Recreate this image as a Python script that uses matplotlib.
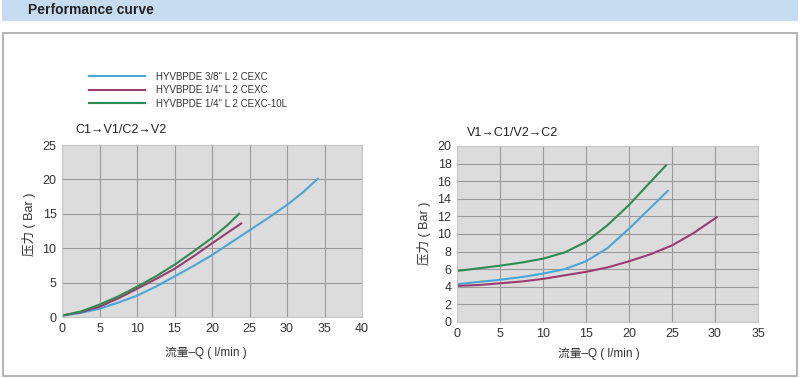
import matplotlib
matplotlib.use("Agg")
import matplotlib.pyplot as plt
from matplotlib.patches import Rectangle

plt.rcParams['font.family'] = ['Liberation Sans', 'Noto Sans CJK SC', 'DejaVu Sans']

# left chart: C1->V1/C2->V2
left_blue_q = [0, 2.5, 5, 7.5, 10, 12.5, 15, 17.5, 20, 22.5, 25, 27.5, 30, 32, 34.1]
left_blue_p = [0.2, 0.6, 1.2, 2.1, 3.1, 4.4, 5.9, 7.4, 9.0, 10.8, 12.6, 14.4, 16.3, 18.0, 20.1]
left_purple_q = [0, 2.5, 5, 7.5, 10, 12.5, 15, 17.5, 20, 22, 23.9]
left_purple_p = [0.2, 0.7, 1.5, 2.7, 4.1, 5.5, 7.0, 8.8, 10.7, 12.2, 13.6]
left_green_q = [0, 2.5, 5, 7.5, 10, 12.5, 15, 17.5, 20, 22, 23.6]
left_green_p = [0.2, 0.8, 1.8, 3.0, 4.4, 5.9, 7.6, 9.5, 11.5, 13.3, 15.0]

# right chart: V1->C1/V2->C2
right_green_q = [0, 2.5, 5, 7.5, 10, 12.5, 15, 17.5, 20, 22, 24.3]
right_green_p = [5.8, 6.1, 6.4, 6.75, 7.2, 7.9, 9.1, 11.0, 13.3, 15.4, 17.8]
right_blue_q = [0, 2.5, 5, 7.5, 10, 12.5, 15, 17.5, 20, 22, 24.5]
right_blue_p = [4.3, 4.55, 4.8, 5.1, 5.5, 6.0, 6.9, 8.4, 10.6, 12.5, 14.9]
right_purple_q = [0, 2.5, 5, 7.5, 10, 12.5, 15, 17.5, 20, 22.5, 25, 27.5, 30.2]
right_purple_p = [4.1, 4.2, 4.4, 4.6, 4.9, 5.3, 5.7, 6.2, 6.9, 7.7, 8.7, 10.1, 11.9]

labels = ['HYVBPDE 3/8" L 2 CEXC', 'HYVBPDE 1/4" L 2 CEXC', 'HYVBPDE 1/4" L 2 CEXC-10L']
colors = ['#4aa6d6', '#9a3d6e', '#2f8a55']

fig = plt.figure(figsize=(8, 3.78), dpi=100)
W, H = 800, 378

# header band and frame
fig.add_artist(Rectangle((2 / W, 1 - 21 / H), 796 / W, 21 / H, transform=fig.transFigure,
                         facecolor='#c6dcf1', edgecolor='none'))
fig.text(28 / W, 1 - 10 / H, 'Performance curve', fontsize=10, fontweight='bold',
         color='#222222', va='center', ha='left')
fig.add_artist(Rectangle((3 / W, 2 / H), 794 / W, (376 - 33) / H, transform=fig.transFigure,
                         facecolor='none', edgecolor='#a8a8a8', lw=1.2))


def style(ax, xmax, xstep, ymax, ystep):
    ax.set_facecolor('#dcdcdc')
    ax.set_xlim(0, xmax)
    ax.set_ylim(0, ymax)
    ax.set_xticks(range(0, xmax + 1, xstep))
    ax.set_yticks(range(0, ymax + 1, ystep))
    ax.grid(True, color='#9a9a9a', lw=0.8)
    ax.set_axisbelow(True)
    for s in ax.spines.values():
        s.set_color('#c8c8c8')
        s.set_linewidth(0.8)
    ax.tick_params(length=0, labelsize=9, labelcolor='#333333', pad=4)


axl = fig.add_axes([62 / W, 1 - 317 / H, 300 / W, 172 / H])
style(axl, 40, 5, 25, 5)
axl.plot(left_blue_q, left_blue_p, color=colors[0], lw=1.5, label=labels[0])
axl.plot(left_purple_q, left_purple_p, color=colors[1], lw=1.5, label=labels[1])
axl.plot(left_green_q, left_green_p, color=colors[2], lw=1.5, label=labels[2])
axl.text(0.043, 1.087, 'C1→V1/C2→V2', transform=axl.transAxes, fontsize=9,
         color='#222222', va='center', ha='left')
axl.set_ylabel('压力 ( Bar )', fontsize=9, color='#333333')
axl.yaxis.set_label_coords(-0.087, 0.54)
axl.set_xlabel('流量–Q ( l/min )', fontsize=8.5, color='#333333')
axl.xaxis.set_label_coords(0.48, -0.174)

axr = fig.add_axes([457 / W, 1 - 322 / H, 301 / W, 176 / H])
style(axr, 35, 5, 20, 2)
axr.plot(right_green_q, right_green_p, color=colors[2], lw=1.5)
axr.plot(right_blue_q, right_blue_p, color=colors[0], lw=1.5)
axr.plot(right_purple_q, right_purple_p, color=colors[1], lw=1.5)
axr.text(0.033, 1.074, 'V1→C1/V2→C2', transform=axr.transAxes, fontsize=9,
         color='#222222', va='center', ha='left')
axr.set_ylabel('压力 ( Bar )', fontsize=9, color='#333333')
axr.yaxis.set_label_coords(-0.086, 0.506)
axr.set_xlabel('流量–Q ( l/min )', fontsize=8.5, color='#333333')
axr.xaxis.set_label_coords(0.47, -0.142)

leg = fig.legend(loc='upper left', bbox_to_anchor=(84 / W, 1 - 67 / H), frameon=False,
                 fontsize=7, handlelength=5.8, handletextpad=1.1, labelspacing=0.35,
                 borderpad=0)
for t in leg.get_texts():
    t.set_color('#333333')

fig.savefig('out.png', dpi=100)
